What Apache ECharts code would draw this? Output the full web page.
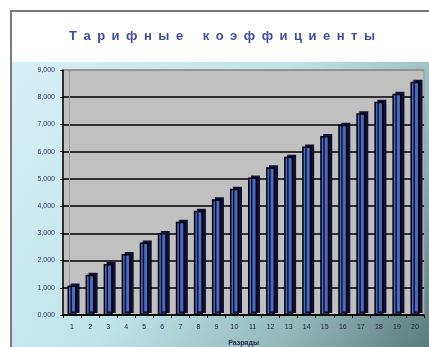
<!DOCTYPE html>
<html>
<head>
<meta charset="utf-8">
<script src="https://cdn.jsdelivr.net/npm/echarts@6/dist/echarts.min.js"></script>
<style>
  html, body { margin: 0; padding: 0; background: #fff; }
  #main { width: 429px; height: 347px; }
</style>
</head>
<body>
<div id="main"></div>
<script>
// разряды и коэффициенты
var categories = ['1','2','3','4','5','6','7','8','9','10','11','12','13','14','15','16','17','18','19','20'];
var koef = [1.08, 1.48, 1.87, 2.24, 2.66, 3.01, 3.43, 3.83, 4.25, 4.64, 5.05, 5.43, 5.81, 6.19, 6.58, 6.99, 7.41, 7.83, 8.13, 8.57];
var yTickLabels = ['0,000','1,000','2,000','3,000','4,000','5,000','6,000','7,000','8,000','9,000'];
var titleText = 'Тарифные коэффициенты';

var chart = echarts.init(document.getElementById('main'), null, { renderer: 'canvas' });

// разрядка букв в заголовке, как в оригинале
var spaced = titleText.split(' ').map(function (w) { return w.split('').join('\u2002'); }).join('\u2003\u2002');

var gridColors = ['#000','#000','#000','#000','#000','#000','#000','#000','#000','#8a8a8a'];

var option = {
  backgroundColor: '#fff',
  animation: false,
  title: {
    text: spaced,
    left: 217,
    top: 25,
    textAlign: 'center',
    textStyle: {
      fontFamily: 'Liberation Sans',
      fontSize: 13,
      fontWeight: 'bold',
      color: '#3c4caa'
    }
  },
  graphic: [
    {
      type: 'rect',
      z: -1,
      shape: { x: 12, y: 62, width: 420, height: 290 },
      style: {
        fill: new echarts.graphic.LinearGradient(0, 0, 1, 1, [
          { offset: 0, color: '#d8eff6' },
          { offset: 0.45, color: '#bfe3ea' },
          { offset: 0.75, color: '#93b8b8' },
          { offset: 1, color: '#5a7878' }
        ])
      }
    },
    {
      type: 'rect',
      z: 10,
      shape: { x: 11, y: 11, width: 430, height: 350 },
      style: { fill: null, stroke: '#7a7a7a', lineWidth: 2 }
    },
    {
      type: 'line',
      z: 1,
      shape: { x1: 69.5, y1: 70, x2: 69.5, y2: 315 },
      style: { stroke: '#9a9a9a', lineWidth: 1 }
    }
  ],
  grid: {
    left: 63,
    top: 70,
    right: 5,
    bottom: 32,
    outerBoundsMode: 'none',
    show: true,
    backgroundColor: '#c0c0c0',
    borderColor: '#999',
    borderWidth: 1
  },
  xAxis: {
    type: 'category',
    data: categories,
    name: 'Разряды',
    nameLocation: 'middle',
    nameGap: 25,
    nameTextStyle: { fontFamily: 'Liberation Sans', fontSize: 7, fontWeight: 'bold', color: '#222244' },
    axisLine: { lineStyle: { color: '#000', width: 1.5 } },
    axisTick: { show: true, length: 3, lineStyle: { color: '#000' } },
    axisLabel: { fontFamily: 'Liberation Sans', fontSize: 7, color: '#222244', margin: 9 }
  },
  yAxis: {
    type: 'value',
    min: 0,
    max: 9,
    interval: 1,
    axisLine: { show: true, lineStyle: { color: '#000', width: 1.5 } },
    axisTick: { show: true, length: 3, lineStyle: { color: '#000' } },
    splitLine: { show: true, lineStyle: { color: gridColors, width: 1.6 } },
    axisLabel: {
      fontFamily: 'Liberation Sans',
      fontSize: 7,
      color: '#333366',
      margin: 8,
      formatter: function (v) { return yTickLabels[Math.round(v)]; }
    }
  },
  series: [
    {
      type: 'bar',
      data: koef,
      barWidth: 9,
      itemStyle: {
        color: '#4a6bc2',
        borderColor: '#000',
        borderWidth: 1.5,
        shadowColor: '#0c1236',
        shadowOffsetX: 3,
        shadowOffsetY: -2,
        shadowBlur: 0
      }
    }
  ]
};
chart.setOption(option);
</script>
</body>
</html>
